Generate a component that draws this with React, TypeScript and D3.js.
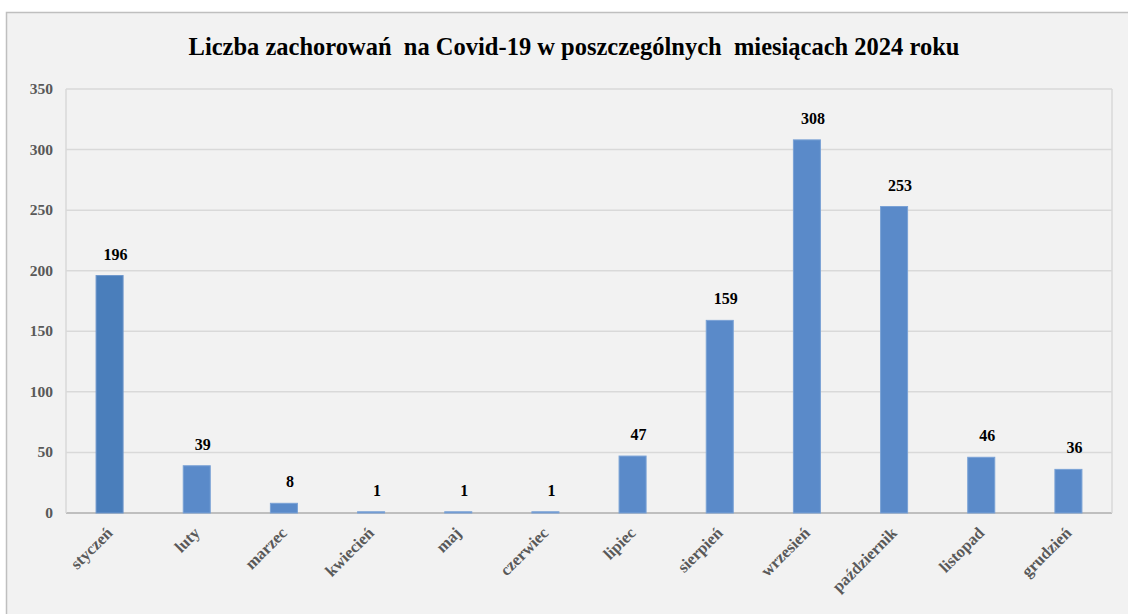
import React from "react";
import * as d3 from "d3";

const months = ["styczeń","luty","marzec","kwiecień","maj","czerwiec","lipiec","sierpień","wrzesień","październik","listopad","grudzień"];
const cases = [196,39,8,1,1,1,47,159,308,253,46,36];
const yTicks = [0,50,100,150,200,250,300,350];
const title = "Liczba zachorowań  na Covid-19 w poszczególnych  miesiącach 2024 roku";

export default function App() {
  const W = 1128, H = 614;
  const left = 66, right = 1112, top = 89, bottom = 513;
  const x = d3.scaleBand<string>().domain(months).range([left, right]).paddingInner(0.69).paddingOuter(0.345);
  const y = d3.scaleLinear().domain([0, 350]).range([bottom, top]);
  const font = "'Liberation Serif', 'Times New Roman', serif";
  return (
    <svg width={W} height={H} style={{ position: "absolute", left: 0, top: 0, display: "block" }}>
      <rect x={0} y={0} width={W} height={H} fill="#ffffff" />
      <rect x={6.5} y={12.5} width={W + 10} height={H + 10} fill="#f2f2f2" stroke="#bfbfbf" strokeWidth={1.5} />
      <text x={574} y={55} textAnchor="middle" fontFamily={font} fontWeight="bold" fontSize={24.5} fill="#000" style={{ whiteSpace: "pre" }} xmlSpace="preserve">{title}</text>
      {yTicks.map(t => (
        <g key={t}>
          <line x1={left} x2={right} y1={y(t)} y2={y(t)} stroke={t === 0 ? "#bfbfbf" : "#d9d9d9"} strokeWidth={t === 0 ? 2 : 1.5} />
          <text x={53} y={y(t) + 5} textAnchor="end" fontFamily={font} fontWeight="bold" fontSize={15.5} fill="#595959">{t}</text>
        </g>
      ))}
      <line x1={left} x2={left} y1={top} y2={bottom} stroke="#d9d9d9" strokeWidth={1.5} />
      <line x1={right} x2={right} y1={top} y2={bottom} stroke="#d9d9d9" strokeWidth={1.5} />
      {months.map((m, i) => {
        const bx = x(m)!;
        const bw = x.bandwidth();
        const cx = bx + bw / 2;
        return (
          <g key={m}>
            <rect x={bx} y={y(cases[i])} width={bw} height={bottom - y(cases[i])} fill={i === 0 ? "#4a7ebb" : "#5a8ac9"} stroke={i === 0 ? "#6f97cc" : "#7aa2d6"} strokeWidth={1} />
            <text x={cx + 6} y={y(cases[i]) - 16} textAnchor="middle" fontFamily={font} fontWeight="bold" fontSize={16} fill="#000">{cases[i]}</text>
            <text transform={`translate(${cx + 4},${bottom + 21}) rotate(-45)`} textAnchor="end" fontFamily={font} fontWeight="bold" fontSize={16.5} fill="#595959">{m}</text>
          </g>
        );
      })}
    </svg>
  );
}
